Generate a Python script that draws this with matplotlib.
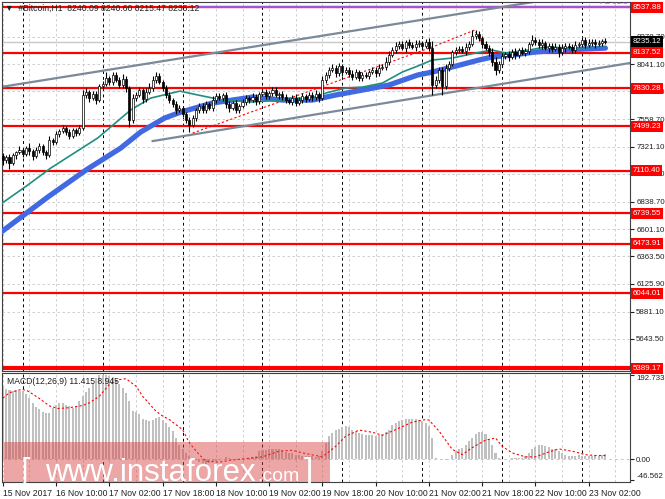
"""
#Bitcoin H1 chart (MT4 style) with support lines, channel and MACD panel.
"""

import matplotlib.pyplot as plt
import matplotlib.transforms as mtransforms
from matplotlib.patches import Rectangle
import numpy as np

plt.rcParams["font.family"] = ["Liberation Sans", "DejaVu Sans"]

# --- data --------------------------------------------------------------------
first_open = 7240
closes = [
    7204, 7230, 7178, 7247, 7274, 7291, 7256, 7308, 7282, 7239,
    7291, 7326, 7274, 7247, 7378, 7361, 7431, 7457, 7483, 7448,
    7413, 7465, 7439, 7483, 7771, 7797, 7744, 7779, 7727, 7849,
    7866, 7919, 7884, 7945, 7901, 7858, 7910, 7832, 7553, 7744,
    7771, 7814, 7736, 7797, 7832, 7901, 7936, 7884, 7832, 7771,
    7727, 7692, 7640, 7657, 7605, 7553, 7509, 7570, 7640, 7675,
    7640, 7692, 7657, 7727, 7762, 7744, 7771, 7692, 7657, 7701,
    7640, 7675, 7710, 7744, 7727, 7753, 7718, 7779, 7797, 7762,
    7788, 7814, 7771, 7779, 7753, 7727, 7710, 7744, 7701, 7727,
    7762, 7736, 7771, 7753, 7779, 7744, 7901, 7945, 7989, 8006,
    7962, 8023, 7971, 7989, 7954, 7928, 7971, 7919, 7945, 7936,
    7971, 7989, 7962, 8006, 8015, 8058, 8119, 8163, 8198, 8215,
    8180, 8233, 8207, 8189, 8215, 8224, 8198, 8233, 8180, 7858,
    7901, 7989, 7849, 8006, 8041, 8146, 8163, 8172, 8154, 8189,
    8215, 8285, 8302, 8268, 8215, 8180, 8146, 8058, 7989, 8041,
    8111, 8128, 8102, 8146, 8119, 8163, 8137, 8154, 8215, 8250,
    8233, 8207, 8224, 8180, 8198, 8172, 8189, 8146, 8180, 8198,
    8189, 8163, 8207, 8215, 8250, 8207, 8224, 8233, 8215, 8224,
    8241, 8235.12,
]
upper_wick = [
    25, 15, 30, 20, 12, 35, 20, 15, 40, 22,
    25, 30, 15, 20, 35, 20, 25, 15, 30, 20,
    25, 20, 15, 30, 40, 35, 20, 25, 30, 20,
    30, 52, 20, 26, 30, 25, 40, 30, 20, 35,
    25, 30, 20, 35, 40, 35, 35, 30, 20, 25,
    30, 20, 25, 30, 20, 15, 25, 30, 20, 25,
    30, 25, 20, 35, 30, 25, 20, 25, 30, 20,
    25, 20, 30, 25, 20, 35, 25, 20, 30, 25,
    20, 30, 25, 20, 25, 30, 20, 25, 35, 30,
    25, 20, 30, 25, 35, 20, 40, 30, 25, 35,
    30, 25, 20, 30, 25, 35, 30, 20, 25, 30,
    20, 25, 30, 35, 25, 40, 35, 30, 35, 30,
    25, 20, 30, 25, 35, 30, 20, 25, 35, 60,
    40, 30, 25, 35, 30, 20, 25, 30, 25, 35,
    30, 52, 35, 25, 20, 30, 25, 35, 40, 30,
    25, 20, 30, 25, 35, 20, 30, 25, 20, 40,
    30, 25, 35, 20, 30, 25, 35, 30, 40, 25,
    30, 25, 35, 20, 30, 25, 35, 30, 25, 30,
    20, 25,
]
lower_wick = [
    40, 25, 50, 20, 30, 15, 25, 20, 30, 35,
    20, 25, 30, 35, 20, 25, 15, 30, 20, 25,
    30, 20, 25, 20, 15, 25, 30, 20, 35, 20,
    25, 20, 30, 25, 20, 30, 25, 35, 60, 30,
    25, 20, 35, 25, 20, 30, 25, 20, 30, 25,
    30, 25, 35, 20, 30, 25, 60, 20, 25, 30,
    25, 30, 20, 25, 30, 20, 25, 35, 30, 20,
    30, 25, 20, 30, 25, 20, 30, 25, 20, 30,
    25, 30, 20, 35, 25, 30, 20, 25, 30, 20,
    30, 25, 20, 35, 25, 30, 20, 25, 30, 20,
    30, 25, 35, 20, 30, 25, 20, 30, 25, 20,
    25, 20, 30, 25, 20, 30, 25, 20, 30, 25,
    20, 30, 25, 20, 35, 25, 30, 20, 25, 85,
    30, 25, 75, 30, 25, 20, 30, 25, 20, 30,
    25, 20, 30, 25, 30, 20, 35, 30, 40, 25,
    30, 25, 35, 20, 30, 25, 20, 30, 25, 20,
    30, 25, 35, 20, 30, 25, 20, 45, 25, 30,
    20, 25, 30, 20, 25, 30, 20, 25, 30, 20,
    25, 20,
]

teal_idx = [-1, 7.5, 14.4, 28.5, 38.4, 44.4, 53.2, 58.6, 66, 75, 84, 94, 97, 103,
            108, 114, 120, 124.6, 129, 135, 142, 147, 151, 158, 163, 171, 181]
teal_val = [6812, 6986, 7134, 7396, 7640, 7744, 7805, 7771, 7727, 7710, 7727, 7753, 7788, 7832,
            7840, 7875, 7971, 8023, 8076, 8093, 8137, 8163, 8137, 8163, 8189, 8180, 8189]
blue_idx = [-1, 13.5, 25, 35.4, 41.4, 48.6, 53.5, 63, 75, 84, 93, 100, 108, 116,
            124.6, 129, 135, 143, 147, 153, 160, 168, 181]
blue_val = [6565, 6881, 7117, 7308, 7448, 7570, 7622, 7701, 7753, 7727, 7727, 7771, 7814, 7858,
            7945, 7971, 8015, 8076, 8102, 8119, 8146, 8163, 8180]

zigzag_idx = [57, 129.5, 141.7, 149.5]
zigzag_val = [7439, 8195, 8337, 7962]

channel_upper = ([-1, 162], [7839, 8594])
channel_lower = ([45, 188.4], [7369, 8050])

levels = [8537.88, 8137.52, 7830.28, 7499.23, 7110.40, 6739.55, 6473.91, 6044.01, 5389.17]
bid_price = 8235.12
fe_level = 8537.88
fe_start = 57.7

price_ticks = [8278.70, 8041.10, 7803.50, 7558.70, 7321.10, 7083.50,
               6838.70, 6601.10, 6363.50, 6125.90, 5881.10, 5643.50]

macd_hist = [
    166, 161, 158, 157, 158, 157, 156, 150, 141, 129,
    120, 114, 108, 105, 106, 118, 125, 129, 128, 125,
    122, 118, 120, 133, 144, 154, 163, 175, 186, 192,
    192, 192, 190, 187, 179, 171, 163, 152, 133, 110,
    108, 103, 93, 90, 87, 91, 95, 97, 91, 84,
    74, 65, 49, 34, 24, 15, 8, 2, -2, -6,
    -9, -10, -9, -6, -4, -2, 2, 6, 4, 2,
    0, 0, 2, 2, 3, 5, 9, 19, 21, 21,
    23, 23, 24, 23, 21, 18, 15, 14, 11, 10,
    9, 8, 8, 9, 6, 8, 19, 38, 53, 61,
    67, 70, 74, 76, 74, 68, 65, 61, 57, 55,
    55, 55, 53, 55, 57, 62, 68, 78, 84, 87,
    91, 93, 93, 93, 93, 91, 87, 84, 76, 49,
    4, 2, 0, -2, 0, 11, 19, 24, 27, 32,
    42, 49, 57, 62, 62, 57, 46, 34, 15, 4,
    2, 0, 2, 4, 4, 4, 4, 8, 15, 23,
    29, 32, 34, 30, 29, 24, 23, 19, 14, 11,
    9, 8, 8, 11, 9, 9, 9, 9, 11, 9,
    11, 11.415,
]
sig_idx = [0, 2, 5.7, 7.5, 10.6, 14, 16.6, 20, 24, 26, 29, 32, 35, 37, 40, 42, 46, 48, 50, 54,
           56, 59, 61, 65, 68, 73, 78, 83, 87, 90, 94, 96, 100, 103, 107, 111, 114, 118, 123, 127,
           128, 131, 135, 138, 141, 145, 148, 150, 153, 157, 160, 164, 167, 171, 175, 178, 181]
sig_val = [140, 152, 160, 156, 141, 122, 116, 118, 123, 129, 144, 171, 182, 184, 167, 144, 110, 99, 91, 68,
           38, 11, -4, -6, -2, 2, 6, 19, 21, 15, 9, 6, 30, 53, 67, 62, 55, 68, 85, 91,
           90, 65, 23, 11, 27, 44, 49, 30, 15, 6, 6, 17, 24, 19, 11, 9, 8.945]
macd_ticks = [192.733, 0.0, -46.562]
macd_tick_labels = ["192.733", "0.00", "-46.562"]

date_labels = ["15 Nov 2017", "16 Nov 10:00", "17 Nov 02:00", "17 Nov 18:00",
               "18 Nov 10:00", "19 Nov 02:00", "19 Nov 18:00", "20 Nov 10:00",
               "21 Nov 02:00", "21 Nov 18:00", "22 Nov 10:00", "23 Nov 02:00"]

# --- derived series ----------------------------------------------------------
n = len(closes)
idx = np.arange(n)
close_a = np.array(closes, dtype=float)
open_a = np.concatenate([[first_open], close_a[:-1]])
high_a = np.maximum(open_a, close_a) + np.array(upper_wick)
low_a = np.minimum(open_a, close_a) - np.array(lower_wick)

W, H = 665, 499
fig = plt.figure(figsize=(W / 100, H / 100), dpi=100)
ax = fig.add_axes([1.5 / W, 1 - 371 / H, 628.5 / W, 369 / H])
axm = fig.add_axes([1.5 / W, 1 - 482 / H, 628.5 / W, 109 / H])

XMIN, XMAX = -0.4, 188.4
GRID = "#c8c8c8"
FS = 6.2
YFS = 5.7


def _grid(a):
    for i in range(0, 189, 8):
        a.axvline(i, color=GRID, ls=(0, (3, 3)), lw=0.6, zorder=0)
    for i in range(6, 189, 24):
        a.axvline(i, color="black", ls=(0, (3, 3)), lw=0.7, zorder=0)


def _right_labels(a):
    a.yaxis.tick_right()
    a.tick_params(axis="y", length=3, width=0.8, pad=1.5, labelsize=YFS, colors="#202020")


# main price panel
_grid(ax)
for p in price_ticks:
    ax.axhline(p, color=GRID, ls=(0, (3, 3)), lw=0.6, zorder=0)
ax.axhline(bid_price, color="#c8c8c8", lw=1.0, zorder=1)

for lv in levels:
    ax.axhline(lv, color="red", lw=3.0 if lv == levels[-1] else 1.6, zorder=2)
ax.hlines(fe_level, fe_start, XMAX, color="#a155d6", lw=1.6, zorder=2.1)
ax.text(187.6, fe_level + 10, "FE 61.8", color="#a155d6", fontsize=YFS,
        ha="right", va="bottom", clip_on=True)

ax.plot(*channel_upper, color="#7a8a9a", lw=1.6, zorder=2.2)
ax.plot(*channel_lower, color="#7a8a9a", lw=1.6, zorder=2.2)
ax.plot(zigzag_idx, zigzag_val, color="red", ls=(0, (2, 2)), lw=0.8, zorder=2.3)

ax.plot(blue_idx, blue_val, color="#4169e1", lw=3.8, solid_capstyle="round", zorder=3)
ax.plot(teal_idx, teal_val, color="#1f8f80", lw=1.2, zorder=3.1)

ax.vlines(idx, low_a, high_a, color="black", lw=0.8, zorder=4)
bull = close_a >= open_a
ax.bar(idx, close_a - open_a, bottom=open_a, width=0.62,
       color=np.where(bull, "white", "black"), edgecolor="black", lw=0.5, zorder=5)

ax.set_xlim(XMIN, XMAX)
ax.set_ylim(5364, 8582)
ax.set_yticks(price_ticks)
ax.set_yticklabels([f"{p:.2f}" for p in price_ticks])
_right_labels(ax)
ax.tick_params(axis="x", bottom=False, labelbottom=False)

ax.text(0.006, 0.984, "\u25bc  #Bitcoin,H1  8240.09 8240.60 8215.47 8235.12",
        transform=ax.transAxes, fontsize=FS, color="#202020", va="center", zorder=6)

trans = mtransforms.blended_transform_factory(ax.transAxes, ax.transData)
for lv in levels:
    ax.text(1.004, lv, f"{lv:.2f}", transform=trans, fontsize=YFS,
            color="white", ha="left", va="center", clip_on=False, zorder=10,
            bbox=dict(boxstyle="square,pad=0.25", fc="red", ec="none"))
ax.text(1.004, bid_price, f"{bid_price:.2f}", transform=trans, fontsize=YFS,
        color="white", ha="left", va="center", clip_on=False, zorder=10,
        bbox=dict(boxstyle="square,pad=0.25", fc="black", ec="none"))

# MACD panel
_grid(axm)
axm.axhline(0, color=GRID, ls=(0, (3, 3)), lw=0.7, zorder=0)
axm.bar(idx, macd_hist, width=0.62, color="#c0c0c0", zorder=2)
axm.plot(sig_idx, sig_val, color="red", ls=(0, (2, 2)), lw=0.8, zorder=3)
axm.set_xlim(XMIN, XMAX)
axm.set_ylim(-51.3, 197)
axm.set_yticks(macd_ticks)
axm.set_yticklabels(macd_tick_labels)
_right_labels(axm)
axm.get_yticklabels()[0].set_va("top")
axm.get_yticklabels()[-1].set_va("bottom")
axm.set_xticks(range(0, 16 * len(date_labels), 16))
axm.set_xticklabels(date_labels)
axm.tick_params(axis="x", length=3, width=0.8, pad=2, labelsize=FS, colors="#202020")
for lab in axm.get_xticklabels():
    lab.set_ha("left")
axm.text(0.008, 0.96, "MACD(12,26,9) 11.415 8.945", transform=axm.transAxes,
         fontsize=FS, color="#202020", va="top")

for a in (ax, axm):
    for s in a.spines.values():
        s.set_color("#404040")
        s.set_linewidth(0.8)

# watermark
fig.patches.append(Rectangle((4 / W, 1 - 481.5 / H), 326 / W, 40 / H, transform=fig.transFigure,
                             fc="#d93b3b", ec="none", alpha=0.45, zorder=20))
fig.text(21 / W, 1 - 481 / H, "[", fontsize=24, color="white", va="baseline", zorder=21)
fig.text(45 / W, 1 - 481 / H, "www.instaforex", fontsize=22.5, color="white",
         va="baseline", zorder=21)
fig.text(257 / W, 1 - 481 / H, ".com", fontsize=14, color="white", va="baseline", zorder=21)
fig.text(304 / W, 1 - 481 / H, "]", fontsize=24, color="white", va="baseline", zorder=21)

fig.savefig("out.png", dpi=100)
